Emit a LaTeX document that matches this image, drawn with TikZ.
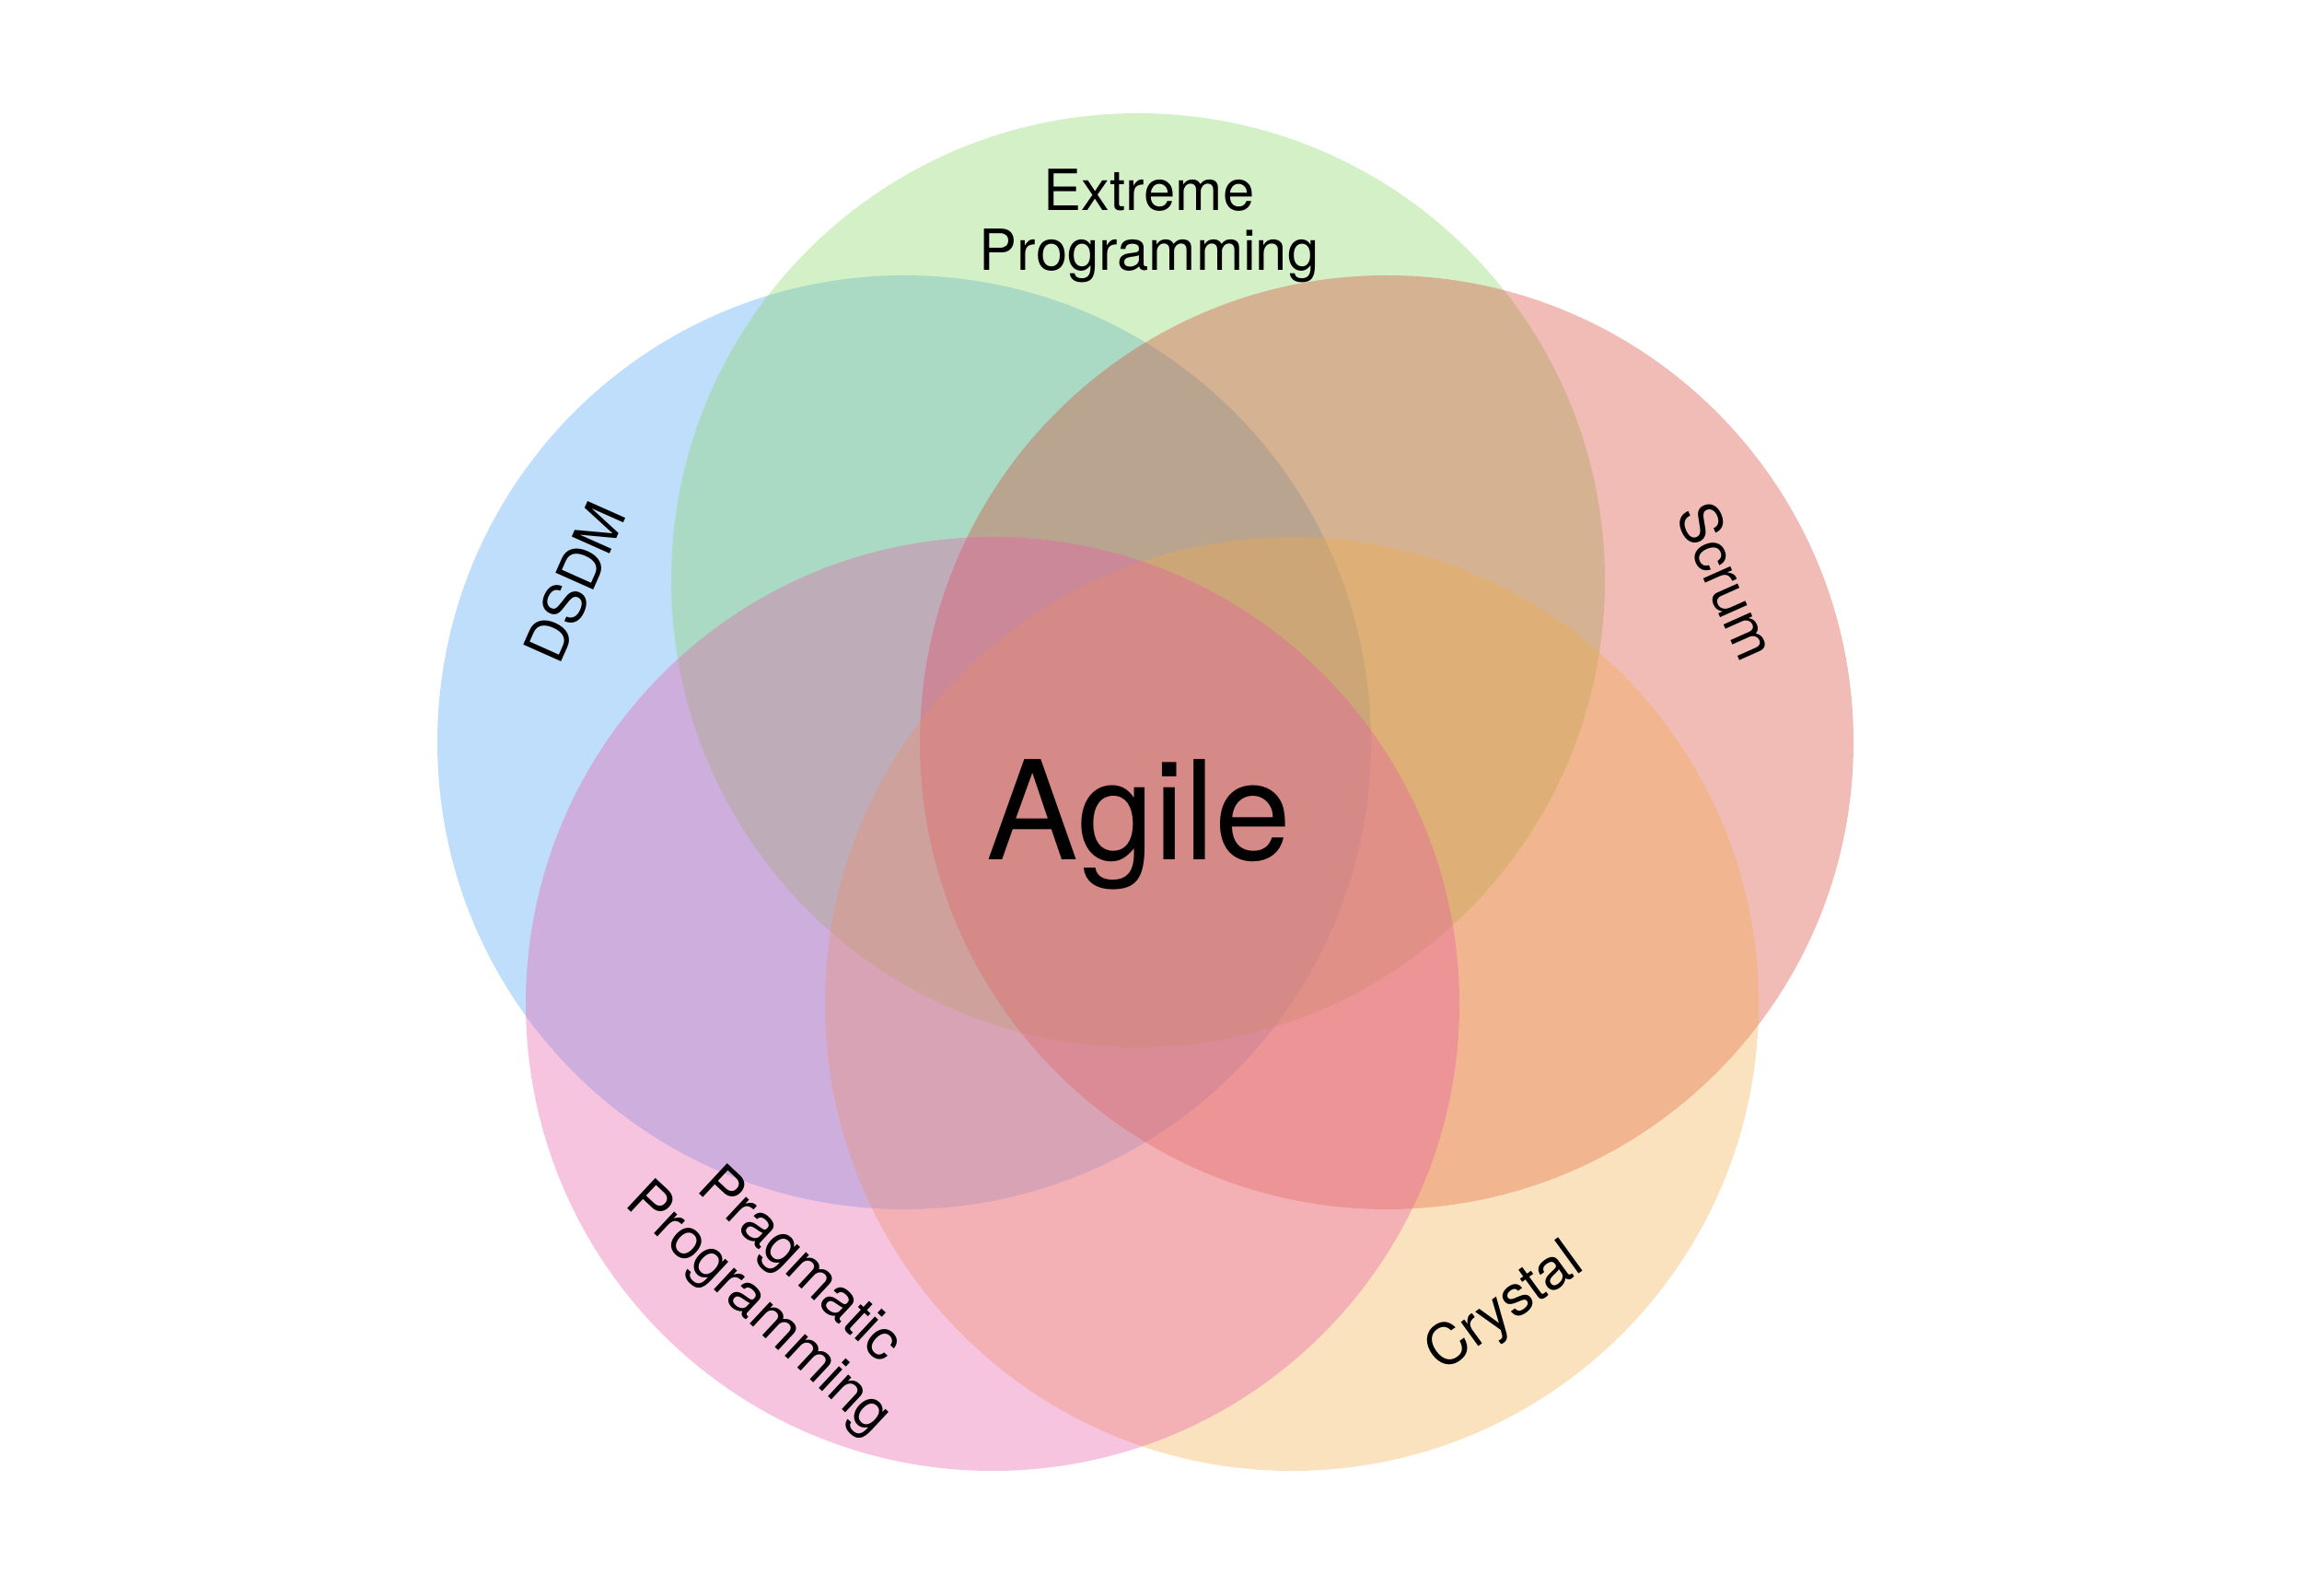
\documentclass[tikz,border=0pt]{standalone}
\usepackage{fontspec}
\setmainfont{TeX Gyre Heros}
\definecolor{dsdmblue}{RGB}{72,161,244}
\definecolor{xpgreen}{RGB}{132,212,95}
\definecolor{scrumred}{RGB}{215,64,47}
\definecolor{crystalorange}{RGB}{241,172,72}
\definecolor{pragpink}{RGB}{232,86,166}
\begin{document}
\begin{tikzpicture}[s/.style={circle, minimum size=10.14cm, inner sep=0pt, fill opacity=0.35},
		lbl/.style={font=\fontsize{17.5}{18.5}\selectfont, align=center, inner sep=0pt}]
		\useasboundingbox (0,0) rectangle (25.24,17.08);
		\node [s, fill=dsdmblue] (D) at (9.82,9.02) {};
		\node [s, fill=xpgreen] (X) at (12.36,10.78) {};
		\node [s, fill=scrumred] (S) at (15.06,9.02) {};
		\node [s, fill=crystalorange] (C) at (14.03,6.18) {};
		\node [s, fill=pragpink] (P) at (10.78,6.18) {};

		\node [lbl] (XL) at (12.48,14.63) {Extreme\\Programming};
		\node [lbl, rotate=66] (DL) at (6.24,10.76) {DSDM};
		\node [lbl, rotate=-66] (SL) at (18.76,10.77) {Scrum};
		\node [lbl, rotate=36] (CL) at (16.35,2.87) {Crystal};
		\node [lbl, rotate=-43] (PL) at (8.45,3.09) {Pragmatic\\Programming};
		\node [font=\fontsize{42.5}{46}\selectfont, anchor=base, inner sep=0pt] (A) at (12.37,7.75) {Agile};
	\end{tikzpicture}
\end{document}
